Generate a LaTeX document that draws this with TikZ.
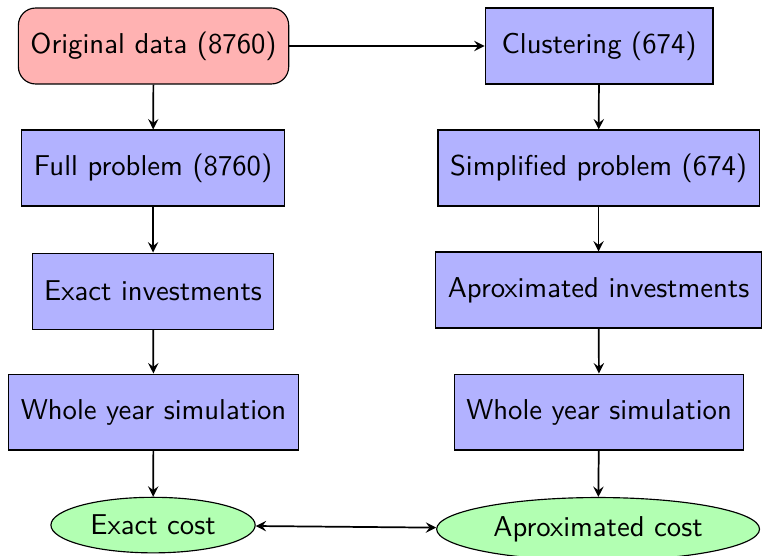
\documentclass[tikz,border=0pt]{standalone}
\usepackage{amsmath}
\usepackage{tikz}
\usetikzlibrary{positioning,shapes.geometric,arrows}
\usepackage{xcolor}

\begin{document}
\begin{tikzpicture}[font=\sffamily,
	block/.style={draw, fill=blue!30, rectangle, inner xsep=4.2pt, minimum height=0.93cm},
	datablock/.style={draw, fill=red!30, rectangle, inner xsep=4.2pt, rounded corners=6pt, minimum height=0.93cm},
	costnode/.style={draw, fill=green!30, ellipse},
	line/.style={draw, semithick, ->, >=stealth}]
	\useasboundingbox (0, 0) rectangle (9.33, -6.80);
	% left column
	\node [datablock] (orig) at (1.880, -0.563) {Original data (8760)};
	\node [block] (full) at (1.874, -2.057) {Full problem (8760)};
	\node [block] (exinv) at (1.874, -3.564) {Exact investments};
	\node [block] (simleft) at (1.880, -5.045) {Whole year simulation};
	\node [costnode] (exc) at (1.874, -6.429) {Exact cost};
	% right column
	\node [block, minimum width=2.79cm] (clus) at (7.335, -0.563) {Clustering (674)};
	\node [block] (simp) at (7.329, -2.057) {Simplified problem (674)};
	\node [block] (apinv) at (7.329, -3.551) {Aproximated investments};
	\node [block] (simright) at (7.335, -5.045) {Whole year simulation};
	\node [costnode] (apc) at (7.323, -6.478) {Aproximated cost};
	% arrows
	\path [line] (orig) -- (clus);
	\path [line] (orig) -- (full);
	\path [line] (full) -- (exinv);
	\path [line] (exinv) -- (simleft);
	\path [line] (simleft) -- (exc);
	\path [line] (clus) -- (simp);
	\path [line] (simp) -- (apinv);
	\path [line] (apinv) -- (simright);
	\path [line] (simright) -- (apc);
	\path [line, <->] (exc) -- (apc);
\end{tikzpicture}
\end{document}
